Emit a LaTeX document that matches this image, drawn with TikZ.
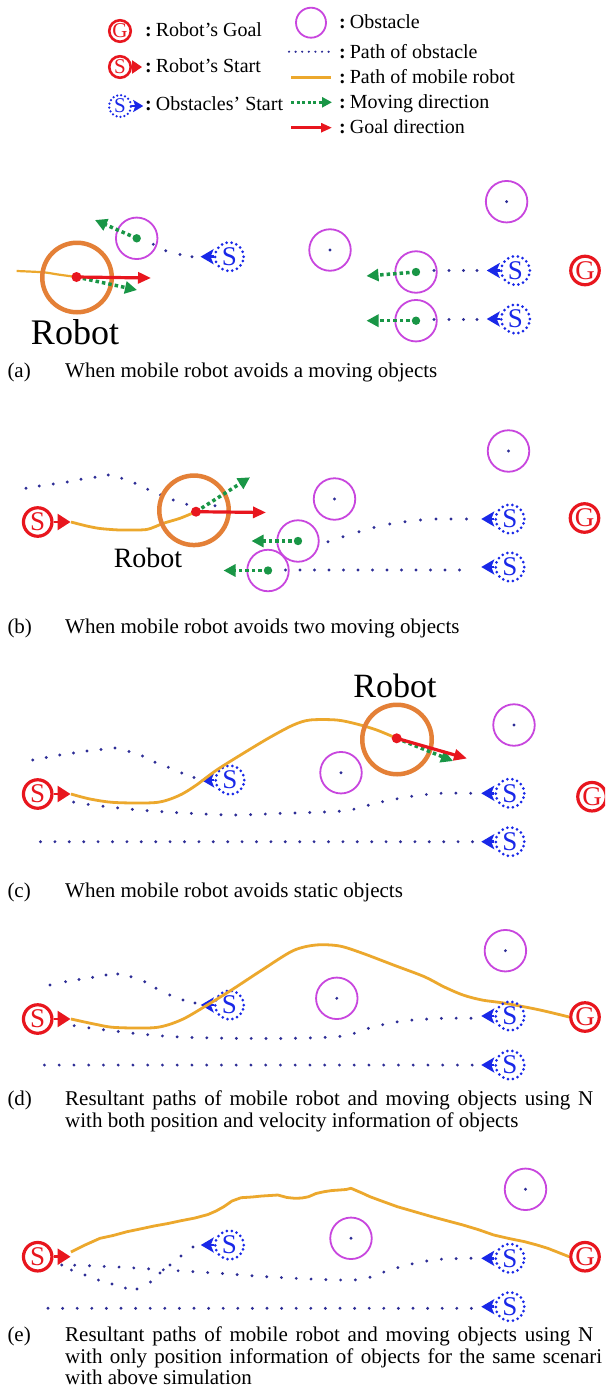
\documentclass[tikz,border=0pt]{standalone}
\usepackage{fontspec}
\setmainfont{Liberation Serif}
\usetikzlibrary{arrows.meta}
\definecolor{rred}{RGB}{232,22,30}
\definecolor{bblue}{RGB}{25,40,232}
\definecolor{navy}{RGB}{45,45,150}
\definecolor{obstc}{RGB}{200,70,222}
\definecolor{orp}{RGB}{236,168,45}
\definecolor{robc}{RGB}{228,128,55}
\definecolor{grn}{RGB}{25,150,70}
\newcommand{\navydots}[1]{\foreach \xx/\yy in {#1}{\fill[navy] (\xx,\yy) circle (1.6);}}
\begin{document}
\begin{tikzpicture}[x=1pt,y=-1pt,
  obst/.style={circle,draw=obstc,line width=1.8,minimum size=41.5,inner sep=0},
  obstl/.style={circle,draw=obstc,line width=1.8,minimum size=30,inner sep=0},
  robotc/.style={circle,draw=robc,line width=4.5,minimum size=69.5,inner sep=0},
  rsn/.style={circle,draw=rred,line width=3.2,minimum size=28.5,inner sep=0,text=rred,font=\fontsize{27}{27}\selectfont},
  rsl/.style={circle,draw=rred,line width=2.6,minimum size=21.5,inner sep=0,text=rred,font=\fontsize{21}{21}\selectfont},
  bstart/.style={circle,draw=bblue,line width=3,dash pattern=on 0pt off 5pt,line cap=round,minimum size=28.5,inner sep=0,text=bblue,font=\fontsize{27}{27}\selectfont},
  bstartl/.style={circle,draw=bblue,line width=2.5,dash pattern=on 0pt off 4pt,line cap=round,minimum size=22,inner sep=0,text=bblue,font=\fontsize{21}{21}\selectfont},
  barrow/.style={draw=bblue,fill=bblue,line width=2.5,-{Stealth[length=13pt,width=15pt,inset=3pt]}},
  barrowl/.style={draw=bblue,fill=bblue,line width=2.2,-{Stealth[length=10pt,width=12pt,inset=2pt]}},
  sarrow/.style={draw=rred,fill=rred,line width=2.5,-{Triangle[length=13pt,width=16pt]}},
  sarrowl/.style={draw=rred,fill=rred,line width=2.2,-{Triangle[length=10pt,width=13pt]}},
  garrow/.style={draw=grn,line width=3.5,dash pattern=on 3.5pt off 3pt,-{Triangle[length=12pt,width=12pt]}},
  garrowl/.style={draw=grn,line width=3,dash pattern=on 3pt off 2.5pt,-{Triangle[length=10pt,width=10pt]}},
  rarrow/.style={draw=rred,line width=3.2,-{Triangle[length=13pt,width=11pt]}},
  rarrowl/.style={draw=rred,line width=2.6,-{Triangle[length=11pt,width=9pt]}},
  opath/.style={draw=navy,line width=3.2,line cap=round,dash pattern=on 0pt off 14.8pt},
  rpath/.style={draw=orp,line width=2.8,line join=round},
  rtxt/.style={anchor=base,inner sep=0,text=black},
  lt/.style={anchor=base west,inner sep=0,font=\fontsize{20}{20}\selectfont},
  captxt/.style={anchor=base west,inner sep=0,font=\fontsize{21}{21}\selectfont}
]
\clip (0,0) rectangle (605,1400);
\fill[white] (0,0) rectangle (605,1400);

% ---------------- legend ----------------
\node[rsl] (lgG) at (120,31) {G};
\node[lt] (lgGt) at (145,36) {\textbf{:}\hspace{4pt}Robot’s Goal};
\node[rsl] (lgS) at (120,67) {S};
\draw[sarrowl] (lgS.east) -- ++(10,0);
\node[lt] (lgSt) at (145,72.7) {\textbf{:}\hspace{4pt}Robot’s Start};
\node[bstartl] (lgB) at (120,106) {S};
\draw[barrowl] (lgB.east) -- ++(11,0);
\node[lt] (lgBt) at (145,110) {\textbf{:}\hspace{4pt}Obstacles’ Start};
\node[obstl] (lgO) at (311,22.7) {};
\node[lt] (lgOt) at (339,28.3) {\textbf{:}\hspace{4pt}Obstacle};
\coordinate (lgP1) at (289,51.7); \coordinate (lgP2) at (330,51.7);
\draw[navy,line width=2.4,line cap=round,dash pattern=on 0pt off 6.6pt] (lgP1) -- (lgP2);
\node[lt] (lgPt) at (339,58.3) {\textbf{:}\hspace{4pt}Path of obstacle};
\coordinate (lgR1) at (291,77.3); \coordinate (lgR2) at (331,77.3);
\draw[rpath] (lgR1) -- (lgR2);
\node[lt] (lgRt) at (339,83.3) {\textbf{:}\hspace{4pt}Path of mobile robot};
\coordinate (lgM1) at (291,102.3); \coordinate (lgM2) at (332,102.3);
\draw[garrowl] (lgM1) -- (lgM2);
\node[lt] (lgMt) at (339,108.3) {\textbf{:}\hspace{4pt}Moving direction};
\coordinate (lgD1) at (291,127.7); \coordinate (lgD2) at (332,127.7);
\draw[rarrowl] (lgD1) -- (lgD2);
\node[lt] (lgDt) at (339,133.3) {\textbf{:}\hspace{4pt}Goal direction};

% ---------------- panel (a) ----------------
\draw[rpath,line width=2.2] plot[smooth] coordinates {(16.7,271) (43.3,272.3) (58,274.5) (76.5,277)};
\node[robotc] (robA) at (77,277.5) {};
\coordinate (rA) at (76.5,277);
\coordinate (rAg) at (151,278); \coordinate (rAm) at (137,290);
\draw[garrow] (rA) -- (rAm);
\draw[rarrow] (rA) -- (rAg);
\fill[rred] (rA) circle (5);
\node[rtxt,font=\fontsize{36}{36}\selectfont] (robAt) at (75,344.3) {Robot};

\node[obst] (oA1) at (136.7,238.3) {};
\coordinate (oA1m) at (95,220);
\draw[garrow] (oA1.center) -- (oA1m);
\fill[grn] (oA1.center) circle (4.2);
\navydots{153.3/244.3,165.7/250.7,180/254.5,192/256.7}
\node[bstart] (bA1) at (229.3,256.7) {S};
\draw[barrow] (bA1.west) -- ++(-13,0);

\node[obst] (oA2) at (330,250) {}; \fill[navy] (oA2.center) circle (1.6);
\node[obst] (oA3) at (506.6,201.7) {}; \fill[navy] (oA3.center) circle (1.6);

\node[obst] (oA4) at (416,272) {};
\coordinate (oA4m) at (366.5,276);
\draw[garrow] (oA4.center) -- (oA4m);
\fill[grn] (oA4.center) circle (4.2);
\navydots{434/270.5,449/270.5,463.5/270.5,477/270.5}
\node[bstart] (bA4) at (515.5,270.5) {S};
\draw[barrow] (bA4.west) -- ++(-13,0);

\node[obst] (oA5) at (416,320.7) {};
\coordinate (oA5m) at (366.5,320.7);
\draw[garrow] (oA5.center) -- (oA5m);
\fill[grn] (oA5.center) circle (4.2);
\navydots{434/319.5,449/319.5,463.5/319.5,477/319.5}
\node[bstart] (bA5) at (515.5,319) {S};
\draw[barrow] (bA5.west) -- ++(-13,0);

\node[rsn] (gA) at (585,270.5) {G};

\node[captxt] (capAl) at (7.3,377.7) {(a)};
\node[captxt] (capA) at (65,377.7) {When mobile robot avoids a moving objects};

% ---------------- panel (b) ----------------
\navydots{26/488.3,39.3/486,53.3/484,67.3/482,81/479.3,95/477.3,108.3/475,121.7/478.3,135/483.3,147.7/489.3,160.5/495,173.3/500,186.7/504.3,215/505.7}
\node[rsn] (sB) at (37.7,522) {S};
\draw[sarrow] (sB.east) -- ++(17,0);
\draw[rpath] plot[smooth,tension=0.4] coordinates {(71,522) (86.7,526) (100,528.5) (120,530) (146.7,529.5) (163.3,523.3) (180,518.3) (196,511.7)};
\node[robotc] (robB) at (194,510.3) {};
\coordinate (rB) at (196,511.7);
\coordinate (rBg) at (266,512.5); \coordinate (rBm) at (250,477.3);
\draw[garrow] (rB) -- (rBm);
\draw[rarrow] (rB) -- (rBg);
\fill[rred] (rB) circle (5);
\node[rtxt,font=\fontsize{28}{28}\selectfont] (robBt) at (148,567.7) {Robot};

\node[obst] (oB1) at (508.5,451) {}; \fill[navy] (oB1.center) circle (1.6);
\node[obst] (oB2) at (334.5,499) {}; \fill[navy] (oB2.center) circle (1.6);

\node[obst] (oB3) at (298,541) {};
\coordinate (oB3m) at (251.5,541);
\draw[garrow] (oB3.center) -- (oB3m);
\fill[grn] (oB3.center) circle (4.2);
\navydots{328/541.7,343/536.7,359/531.7,374/527.5,389.7/524,405/521.7,420.5/520,436/519,451/519,466.5/519}
\node[bstart] (bB3) at (510,519) {S};
\draw[barrow] (bB3.west) -- ++(-13,0);

\node[obst] (oB4) at (268,570.5) {};
\coordinate (oB4m) at (223.5,570.5);
\draw[garrow] (oB4.center) -- (oB4m);
\fill[grn] (oB4.center) circle (4.2);
\foreach \i in {0,...,12}{\fill[navy] (285.5+14.5*\i,570) circle (1.6);}
\node[bstart] (bB4) at (510,567) {S};
\draw[barrow] (bB4.west) -- ++(-13,0);

\node[rsn] (gB) at (584.5,518) {G};

\node[captxt] (capBl) at (7.3,633) {(b)};
\node[captxt] (capB) at (65,633) {When mobile robot avoids two moving objects};

% ---------------- panel (c) ----------------
\node[rtxt,font=\fontsize{34}{34}\selectfont] (robCt) at (395,697.3) {Robot};
\navydots{32.8/760,46.3/757.5,59.8/755,73.5/753,87/751,101/749.5,115/748,129/751.5,142.5/756,155/762.3,168.3/767.3,181.7/773,194/777.5}
\draw[opath] plot[smooth] coordinates {(470.7,793.3) (440,793.3) (409,796.7) (378,802.7) (350,810) (324,812) (278,813.5) (231.5,815) (185,813) (139,810) (92.6,805) (61.7,800)};
\foreach \i in {0,...,30}{\fill[navy] (40.5+14.4*\i,841.7) circle (1.6);}
\node[bstart] (bC1) at (230,780) {S};
\draw[barrow] (bC1.west) -- ++(-13,0);
\node[rsn] (sC) at (37.7,794) {S};
\draw[sarrow] (sC.east) -- ++(17,0);
\draw[rpath] plot[smooth,tension=0.5] coordinates {(71,794) (90,799) (115,802.5) (156,802.5) (178,796) (195,786) (216.7,770) (243.3,753.3) (270,737.3) (293.3,725) (310,720) (336.7,720) (356.7,724) (376.7,730) (396.7,738.3)};
\node[obst] (oC1) at (341,772.7) {}; \fill[navy] (oC1.center) circle (1.6);
\node[obst] (oC2) at (514,725) {}; \fill[navy] (oC2.center) circle (1.6);
\node[robotc] (robC) at (397,739.5) {};
\coordinate (rC) at (396.7,738.3);
\coordinate (rCg) at (467,758.5); \coordinate (rCm) at (453,761);
\draw[garrow] (rC) -- (rCm);
\draw[rarrow] (rC) -- (rCg);
\fill[rred] (rC) circle (5);
\node[bstart] (bC2) at (510,793.3) {S};
\draw[barrow] (bC2.west) -- ++(-13,0);
\node[bstart] (bC3) at (510,841.7) {S};
\draw[barrow] (bC3.west) -- ++(-13,0);
\node[rsn] (gC) at (592,796.7) {G};

\node[captxt] (capCl) at (7.3,897) {(c)};
\node[captxt] (capC) at (65,897) {When mobile robot avoids static objects};

% ---------------- panel (d) ----------------
\navydots{50/985,65.6/981.7,79/979.5,92.6/977.3,106/975,117.7/974,131/976.7,144.7/981.7,156/988.3,169.8/995,183/1000,195/1003}
\draw[opath] plot[smooth] coordinates {(471,1018.3) (443.7,1018.3) (405,1020.7) (374,1026.7) (343,1036) (293,1038.3) (231.5,1038.3) (173.6,1036.7) (131,1033) (92.6,1028.3) (70,1025)};
\foreach \i in {0,...,29}{\fill[navy] (44.4+14.75*\i,1065) circle (1.6);}
\node[bstart] (bD1) at (229.5,1005) {S};
\draw[barrow] (bD1.west) -- ++(-13,0);
\node[rsn] (sD) at (37.7,1019) {S};
\draw[sarrow] (sD.east) -- ++(17,0);
\node[rsn] (gD) at (585,1017) {G};
\draw[rpath] plot[smooth,tension=0.5] coordinates {(71,1019) (96.5,1024.5) (115.7,1027.5) (156,1027.5) (181,1020) (204.5,1006.7) (231.5,990) (262,970) (293,950.7) (316,945) (339.5,946) (362.7,953.3) (393.5,965) (424.4,976.7) (443.7,986.7) (463,995) (482,1000) (505.4,1003.3) (540,1010) (gD.west)};
\node[obst] (oD1) at (505.4,950.7) {}; \fill[navy] (oD1.center) circle (1.6);
\node[obst] (oD2) at (336.8,998.3) {}; \fill[navy] (oD2.center) circle (1.6);
\node[bstart] (bD2) at (510,1016) {S};
\draw[barrow] (bD2.west) -- ++(-13,0);
\node[bstart] (bD3) at (510,1065) {S};
\draw[barrow] (bD3.west) -- ++(-13,0);

\node[captxt] (capDl) at (7.3,1105) {(d)};
\node[captxt] (capD1) at (65,1105) {\makebox[528pt][s]{Resultant paths of mobile robot and moving objects using N}};
\node[captxt] (capD2) at (65,1127) {with both position and velocity information of objects};

% ---------------- panel (e) ----------------
\navydots{193/1247,181/1256,170/1265,160/1273,150.5/1282,137/1289,125.4/1288,112/1284,98.4/1280,85/1275,71.4/1270,61.7/1265}
\draw[opath] plot[smooth] coordinates {(471,1258.3) (440,1259.3) (414.7,1263.3) (389.7,1270) (366.5,1278.3) (351,1280) (316.4,1279.3) (266,1276.7) (220,1273.3) (177.5,1270.7) (123.5,1267.3) (77,1265.3) (60,1265)};
\foreach \i in {0,...,29}{\fill[navy] (48+14.6*\i,1308.3) circle (1.6);}
\node[bstart] (bE1) at (229.5,1245) {S};
\draw[barrow] (bE1.west) -- ++(-13,0);
\node[rsn] (sE) at (37.7,1256.7) {S};
\draw[sarrow] (sE.east) -- ++(17,0);
\node[rsn] (gE) at (585,1256.7) {G};
\draw[rpath,line join=round] plot coordinates {(71,1252) (85,1245) (100,1238.3) (113,1235.5) (127,1231.7) (140,1229) (154,1226) (168,1223.5) (181,1220.7) (195,1218) (208,1214.5) (216,1211) (223.8,1206.7) (232,1201) (241,1197.7) (252,1197) (262,1196) (270,1195.5) (277.8,1195) (287,1197.5) (295,1198.3) (302,1198) (308.6,1196.7) (316,1193.5) (324,1191.7) (332,1190.5) (339.5,1190) (346,1189.5) (351,1188.3) (355,1190) (362,1193) (370,1196.7) (383,1201.5) (397.4,1206.7) (414,1211.5) (432,1216.7) (448,1221) (463,1225) (478,1229.5) (493.8,1235) (509,1238.5) (524.7,1241.7) (537,1245) (547.8,1248.3) (gE.west)};
\node[obst] (oE1) at (525.5,1189.3) {}; \fill[navy] (oE1.center) circle (1.6);
\node[obst] (oE2) at (351,1238.3) {}; \fill[navy] (oE2.center) circle (1.6);
\node[bstart] (bE2) at (510,1258.3) {S};
\draw[barrow] (bE2.west) -- ++(-13,0);
\node[bstart] (bE3) at (510,1306.7) {S};
\draw[barrow] (bE3.west) -- ++(-13,0);

\node[captxt] (capEl) at (7.3,1341.7) {(e)};
\node[captxt] (capE1) at (65,1341.7) {\makebox[528pt][s]{Resultant paths of mobile robot and moving objects using N}};
\node[captxt] (capE2) at (65,1363.3) {\makebox[537pt][s]{with only position information of objects for the same scenari}};
\node[captxt] (capE3) at (65,1384.3) {with above simulation};
\end{tikzpicture}
\end{document}
